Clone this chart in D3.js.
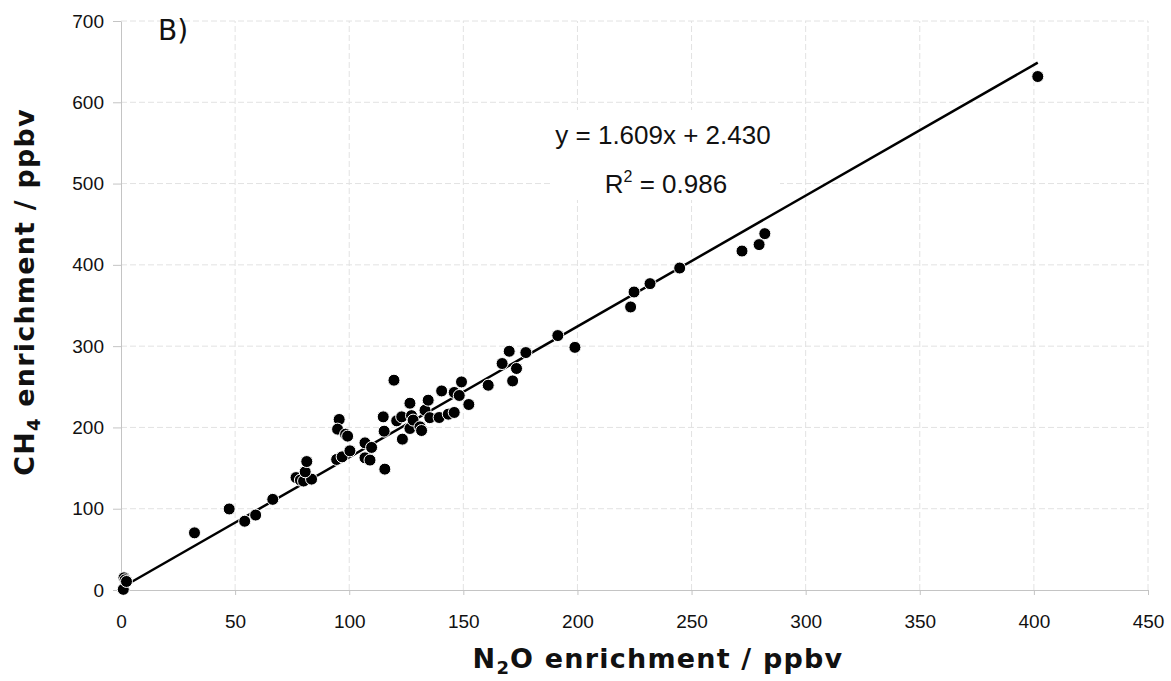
<!DOCTYPE html>
<html>
<head>
<meta charset="utf-8">
<script src="https://cdn.jsdelivr.net/npm/d3@7"></script>
<style>
  body { margin: 0; background: #fff; }
  .tick text { font-family: "Liberation Sans", Arial, sans-serif; font-size: 19px; fill: #111; }
  .axis path, .axis line { stroke: #c4c4c4; }
  .grid line { stroke: #e2e2e2; stroke-dasharray: 6,3; }
</style>
</head>
<body>
<div id="graph"></div>
<script>
// N2O enrichment (x) and CH4 enrichment (y), ppbv
var n2o = [1.0, 1.3, 1.8, 2.4, 32.2, 47.4, 54.2, 59.0, 66.5, 76.7, 78.6, 80.0, 83.5, 80.7, 81.4,
  94.5, 96.9, 100.3, 95.6, 94.9, 98.4, 99.3, 106.9, 109.8, 106.9, 109.1, 115.6, 114.9, 115.3,
  119.6, 120.8, 123.0, 123.3, 126.6, 126.6, 127.3, 128.0, 131.0, 131.7, 133.2, 134.6, 135.3,
  139.4, 140.5, 143.4, 146.0, 146.0, 148.2, 149.2, 152.4, 160.9, 167.0, 170.1, 171.6, 173.3,
  177.4, 191.4, 198.9, 223.3, 224.8, 231.8, 244.8, 272.1, 279.6, 282.1, 401.7];
var ch4 = [0.8, 15.0, 12.5, 10.5, 70.3, 99.7, 84.6, 92.2, 111.5, 138.3, 135.2, 134.0, 136.4, 145.4, 158.0,
  160.6, 163.8, 171.2, 209.8, 197.9, 191.7, 189.3, 181.0, 175.4, 162.6, 159.8, 148.7, 213.0, 195.4,
  258.1, 208.1, 213.0, 185.6, 229.8, 198.7, 214.5, 209.0, 200.7, 196.2, 221.2, 233.5, 212.0,
  212.2, 244.9, 216.3, 243.0, 218.4, 239.3, 256.0, 228.2, 251.9, 278.6, 293.7, 257.2, 272.5,
  292.1, 313.0, 298.5, 348.2, 366.6, 376.9, 396.1, 417.0, 424.9, 438.4, 631.7];

// linear fit shown on the chart
var slope = 1.609, intercept = 2.430, r2 = 0.986;
var fitRange = [0, 401.7];

var xTicks = d3.range(0, 451, 50);
var yTicks = d3.range(0, 701, 100);

var data = n2o.map(function(d, i){ return {x: d, y: ch4[i]}; });

var width = 1171, height = 681;
var margin = {top: 21, right: 23, bottom: 91, left: 121};

var x = d3.scaleLinear().domain([0, 450]).range([margin.left, width - margin.right]);
var y = d3.scaleLinear().domain([0, 700]).range([height - margin.bottom, margin.top]);

var svg = d3.select('#graph').append('svg')
  .attr('width', width)
  .attr('height', height);

// gridlines
var grid = svg.append('g').attr('class', 'grid');
grid.selectAll('line.v')
  .data(xTicks.slice(1))
  .enter().append('line')
    .attr('x1', d => x(d)).attr('x2', d => x(d))
    .attr('y1', y(0)).attr('y2', y(700));
grid.selectAll('line.h')
  .data(yTicks.slice(1))
  .enter().append('line')
    .attr('x1', x(0)).attr('x2', x(450))
    .attr('y1', d => y(d)).attr('y2', d => y(d));

// axes
svg.append('g')
  .attr('class', 'axis')
  .attr('transform', 'translate(0,' + y(0) + ')')
  .call(d3.axisBottom(x).tickValues(xTicks).tickSize(5).tickSizeOuter(0).tickPadding(20));

svg.append('g')
  .attr('class', 'axis')
  .attr('transform', 'translate(' + x(0) + ',0)')
  .call(d3.axisLeft(y).tickValues(yTicks).tickSize(8).tickSizeOuter(0).tickPadding(9));

svg.selectAll('.axis .domain').attr('stroke', '#c4c4c4');

// equation box
var eqX = 663;
svg.append('rect')
  .attr('x', 550).attr('y', 110)
  .attr('width', 230).attr('height', 90)
  .attr('fill', '#fff');

var eq = svg.append('g')
  .style('font-family', '"Liberation Sans", Arial, sans-serif')
  .style('font-size', '26px')
  .attr('fill', '#111');
eq.append('text')
  .attr('x', eqX).attr('y', 144)
  .attr('text-anchor', 'middle')
  .text('y = ' + slope.toFixed(3) + 'x + ' + intercept.toFixed(3));
var rt = eq.append('text')
  .attr('x', eqX + 3).attr('y', 193)
  .attr('text-anchor', 'middle');
rt.append('tspan').text('R');
rt.append('tspan').attr('dy', -11).style('font-size', '16px').text('2');
rt.append('tspan').attr('dy', 11).text(' = ' + r2.toFixed(3));

// fit line
svg.append('line')
  .attr('x1', x(fitRange[0])).attr('y1', y(slope * fitRange[0] + intercept))
  .attr('x2', x(fitRange[1])).attr('y2', y(slope * fitRange[1] + intercept))
  .attr('stroke', '#000')
  .attr('stroke-width', 2.5);

// points
svg.append('g')
  .selectAll('circle')
  .data(data)
  .enter().append('circle')
    .attr('cx', d => x(d.x))
    .attr('cy', d => y(d.y))
    .attr('r', 6)
    .attr('fill', '#000')
    .attr('stroke', '#fff')
    .attr('stroke-width', 1);

// panel label
svg.append('text')
  .attr('x', 158).attr('y', 40)
  .style('font-family', '"DejaVu Sans", Verdana, sans-serif')
  .style('font-size', '28px')
  .attr('fill', '#111')
  .text('B)');

// axis titles
var xt = svg.append('text')
  .attr('x', 658).attr('y', 668)
  .attr('text-anchor', 'middle')
  .style('font-family', '"DejaVu Sans", Verdana, sans-serif')
  .style('font-size', '27px')
  .style('letter-spacing', '1.2px')
  .style('font-weight', 'bold')
  .attr('fill', '#111');
xt.append('tspan').text('N');
xt.append('tspan').attr('dy', 6).style('font-size', '18px').text('2');
xt.append('tspan').attr('dy', -6).text('O enrichment / ppbv');

var yt = svg.append('text')
  .attr('transform', 'translate(34,' + 292 + ') rotate(-90)')
  .attr('text-anchor', 'middle')
  .style('font-family', '"DejaVu Sans", Verdana, sans-serif')
  .style('font-size', '27px')
  .style('letter-spacing', '1.2px')
  .style('font-weight', 'bold')
  .attr('fill', '#111');
yt.append('tspan').text('CH');
yt.append('tspan').attr('dy', 6).style('font-size', '18px').text('4');
yt.append('tspan').attr('dy', -6).text(' enrichment / ppbv');
</script>
</body>
</html>
